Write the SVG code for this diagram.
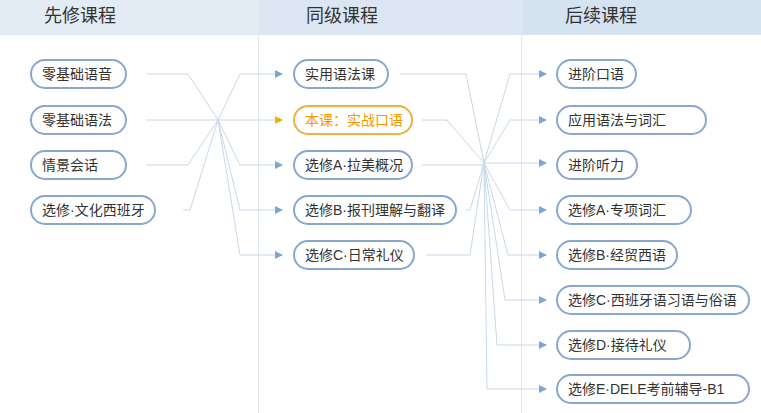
<svg xmlns="http://www.w3.org/2000/svg" width="761" height="413" viewBox="0 0 761 413">
<style>
text{font-family:"Liberation Sans","Noto Sans CJK SC",sans-serif;}
.h{font-size:18px;fill:#333;text-anchor:middle}
.p rect{fill:#fff;stroke:#87a7cf;stroke-width:2}
.p text{font-size:14px;fill:#333}
.o rect{stroke:#f0b040}
.o text{fill:#f39800}
#c path{fill:none;stroke:#c6d8ea;stroke-width:1}
</style>
<defs>
<marker id="a" markerWidth="8" markerHeight="8" refX="7" refY="4" orient="auto" markerUnits="userSpaceOnUse"><path d="M0,0L8,4L0,8z" fill="#7ea6d3"/></marker>
<marker id="ao" markerWidth="8" markerHeight="8" refX="7" refY="4" orient="auto" markerUnits="userSpaceOnUse"><path d="M0,0L8,4L0,8z" fill="#e8b400"/></marker>
</defs>
<rect width="761" height="413" fill="#fff"/>
<rect x="0" y="0" width="258" height="35" fill="#e3ebf5"/>
<rect x="258" y="0" width="263" height="35" fill="#dbe6f2"/>
<rect x="521" y="0" width="240" height="35" fill="#d5e2f0"/>
<line x1="258.5" y1="0" x2="258.5" y2="413" stroke="#e3e8ee"/>
<line x1="521.5" y1="0" x2="521.5" y2="413" stroke="#e3e8ee"/>
<text class="h" x="80" y="22">先修课程</text>
<text class="h" x="342" y="22">同级课程</text>
<text class="h" x="601" y="22">后续课程</text>
<g id="c">
<path d="M146,74H188L218,120"/><path d="M146,120H218"/><path d="M146,165H188L218,120"/><path d="M183,210H190L218,120"/>
<path d="M218,120L240,74H282" marker-end="url(#a)"/>
<path d="M218,120H282" marker-end="url(#ao)"/>
<path d="M218,120L240,165H282" marker-end="url(#a)"/>
<path d="M218,120L240,210H282" marker-end="url(#a)"/>
<path d="M218,120L240,255H282" marker-end="url(#a)"/>
<path d="M400,74H466L484,163"/><path d="M422,120H447L484,163"/><path d="M422,165H484"/><path d="M466,210H470L484,163"/><path d="M426,255H470L484,163"/>
<path d="M484,163L510,74H546" marker-end="url(#a)"/>
<path d="M484,163L510,120H546" marker-end="url(#a)"/>
<path d="M484,163H546" marker-end="url(#a)"/>
<path d="M484,163L510,210H546" marker-end="url(#a)"/>
<path d="M484,163L508,255H546" marker-end="url(#a)"/>
<path d="M484,163L505,300H546" marker-end="url(#a)"/>
<path d="M484,163L497,345H546" marker-end="url(#a)"/>
<path d="M484,163L487,389H546" marker-end="url(#a)"/>
</g>
<g id="n1" class="p"><rect x="31" y="60" width="95" height="28" rx="14"/><text x="42" y="79">零基础语音</text></g>
<g id="n2" class="p"><rect x="31" y="106" width="95" height="28" rx="14"/><text x="42" y="125">零基础语法</text></g>
<g id="n3" class="p"><rect x="31" y="151" width="95" height="28" rx="14"/><text x="42" y="170">情景会话</text></g>
<g id="n4" class="p"><rect x="31" y="196" width="124" height="28" rx="14"/><text x="42" y="215">选修·文化西班牙</text></g>
<g id="m1" class="p"><rect x="294" y="60" width="94" height="28" rx="14"/><text x="305" y="79">实用语法课</text></g>
<g id="m2" class="p o"><rect x="294" y="106" width="118" height="28" rx="14"/><text x="305" y="125">本课：实战口语</text></g>
<g id="m3" class="p"><rect x="294" y="151" width="118" height="28" rx="14"/><text x="305" y="170">选修A·拉美概况</text></g>
<g id="m4" class="p"><rect x="294" y="196" width="162" height="28" rx="14"/><text x="305" y="215">选修B·报刊理解与翻译</text></g>
<g id="m5" class="p"><rect x="294" y="241" width="120" height="28" rx="14"/><text x="305" y="260">选修C·日常礼仪</text></g>
<g id="r1" class="p"><rect x="557" y="60" width="79" height="28" rx="14"/><text x="568" y="79">进阶口语</text></g>
<g id="r2" class="p"><rect x="557" y="106" width="149" height="28" rx="14"/><text x="568" y="125">应用语法与词汇</text></g>
<g id="r3" class="p"><rect x="557" y="151" width="80" height="28" rx="14"/><text x="568" y="170">进阶听力</text></g>
<g id="r4" class="p"><rect x="557" y="196" width="134" height="28" rx="14"/><text x="568" y="215">选修A·专项词汇</text></g>
<g id="r5" class="p"><rect x="557" y="241" width="120" height="28" rx="14"/><text x="568" y="260">选修B·经贸西语</text></g>
<g id="r6" class="p"><rect x="557" y="286" width="192" height="28" rx="14"/><text x="568" y="305">选修C·西班牙语习语与俗语</text></g>
<g id="r7" class="p"><rect x="557" y="331" width="133" height="28" rx="14"/><text x="568" y="350">选修D·接待礼仪</text></g>
<g id="r8" class="p"><rect x="557" y="375" width="192" height="28" rx="14"/><text x="568" y="394">选修E·DELE考前辅导-B1</text></g>
</svg>
